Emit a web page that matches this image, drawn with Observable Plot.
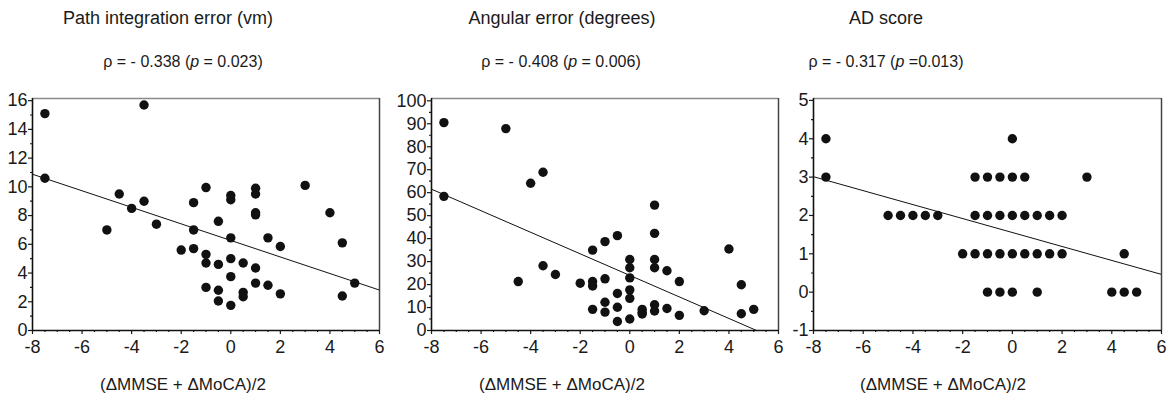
<!DOCTYPE html>
<html><head><meta charset="utf-8">
<script src="https://cdn.jsdelivr.net/npm/d3@7"></script>
<script src="https://cdn.jsdelivr.net/npm/@observablehq/plot@0.6"></script>
<style>
body{margin:0;background:#fff;}
#wrap{position:relative;width:1173px;height:397px;font-family:"Liberation Sans",Arial,sans-serif;color:#1a1a1a;overflow:hidden;}
.panel{position:absolute;top:0;}
.panel text{font-size:18px !important;font-family:"Liberation Sans",Arial,sans-serif !important;}
.t{position:absolute;white-space:nowrap;transform:translate(-50%,-50%);}
</style></head><body><div id="wrap"></div>
<script>
// ---- data ----
const titles = ["Path integration error (vm)", "Angular error (degrees)", "AD score"];
const rhoValues = ["- 0.338", "- 0.408", "- 0.317"];
const pValues = ["= 0.023", "= 0.006", "=0.013"];
const xLabel = "(\u0394MMSE + \u0394MoCA)/2";

const pathX = [-7.5,-7.5,-3.5,-4.5,-5,-4,-3.5,-3,-2,-1.5,-1.5,-1.5,-1,-1,-1,-1,-0.5,-0.5,-0.5,-0.5,0,0,0,0,0,0,0.5,0.5,0.5,1,1,1,1,1,1,1.5,1.5,2,2,3,4,4.5,4.5,5];
const pathY = [15.1,10.6,15.7,9.5,7.0,8.5,9.0,7.4,5.6,8.9,7.0,5.7,9.95,5.3,4.7,3.0,7.6,4.6,2.8,2.05,9.4,9.1,6.45,5.0,3.75,1.75,4.7,2.65,2.35,9.9,9.5,8.2,8.05,4.35,3.3,6.45,3.15,5.85,2.55,10.1,8.2,6.1,2.4,3.3];

const angX = [-7.5,-7.5,-5,-4.5,-4,-3.5,-3.5,-3,-2,-1.5,-1.5,-1.5,-1.5,-1,-1,-1,-1,-0.5,-0.5,-0.5,-0.5,0,0,0,0,0,0,0.5,0.5,0.5,1,1,1,1,1,1,1.5,1.5,2,2,3,4,4.5,4.5,5];
const angY = [90.5,58.4,87.9,21.3,64.1,68.9,28.2,24.4,20.6,35.0,21.3,19.4,9.2,38.7,22.5,12.3,8.0,41.3,16.1,10.1,3.9,30.9,27.3,22.9,17.7,14.0,5.0,9.2,7.9,7.2,54.6,42.3,30.9,27.3,11.2,8.5,26.0,9.6,21.3,6.6,8.6,35.5,19.9,7.3,9.2];

const adX = [-7.5,-7.5,-5,-4.5,-4,-3.5,-3,-1.5,-1,-0.5,0,0.5,3,0,-1.5,-1,-0.5,0,0.5,1,1.5,2,-2,-1.5,-1,-0.5,0,0.5,1,1.5,2,4.5,-1,-0.5,0,1,4,4.5,5];
const adY = [4,3,2,2,2,2,2,3,3,3,3,3,3,4,2,2,2,2,2,2,2,2,1,1,1,1,1,1,1,1,1,1,0,0,0,0,0,0,0];

// fitted regression lines
const fitIntercepts = [6.27, 24.0, 1.555];
const fitSlopes = [-0.576, -4.69, -0.182];

// axis settings
const xDomain = [-8, 6];
const xMajorStep = 2, xMinorStep = 0.5;
const yDomains = [[0, 16.15], [0, 101], [-1, 5.05]];
const yMajorTicks = [d3.range(0, 16.01, 2), d3.range(0, 100.01, 10), d3.range(-1, 5.01, 1)];
const yMinorTicks = [d3.range(1, 16, 2), d3.range(5, 100, 10), d3.range(-0.5, 5, 1)];

// layout
const panelLeft = [0, 390, 780];
const panelWidth = [390, 390, 393];
const marginLefts = [32, 41, 33];
const marginRights = [11, 2, 12];
const H = 397, MT = 98, MB = 67;
const titleCenters = [168, 562, 886];
const rhoCenters = [183, 561, 886];
const xLabelCenters = [183, 562, 943];

const xs = [pathX, angX, adX], ys = [pathY, angY, adY];
const wrap = document.getElementById("wrap");
const xMajor = d3.range(xDomain[0], xDomain[1] + 0.01, xMajorStep);
const xMinor = d3.range(xDomain[0], xDomain[1] + 0.01, xMinorStep).filter(v => Math.abs(v % 2) > 0.01);
const FS = 18;

const addText = (html, x, y, size) => {
  const d = document.createElement("div");
  d.className = "t";
  d.style.left = x + "px";
  d.style.top = y + "px";
  d.style.fontSize = size + "px";
  d.innerHTML = html;
  wrap.appendChild(d);
};

for (let i = 0; i < 3; i++) {
  const pts = xs[i].map((x, k) => ({x, y: ys[i][k]}));
  const fit = xDomain.map(x => ({x, y: fitIntercepts[i] + fitSlopes[i] * x}));
  const yd = yDomains[i];
  const chart = Plot.plot({
    width: panelWidth[i], height: H,
    marginTop: MT, marginBottom: MB, marginLeft: marginLefts[i], marginRight: marginRights[i],
    style: {fontFamily: '"Liberation Sans", Arial, sans-serif', fontSize: FS + "px", color: "#1a1a1a", background: "transparent", overflow: "visible"},
    x: {domain: xDomain},
    y: {domain: yd},
    marks: [
      Plot.ruleY([yd[1]], {stroke: "#8a8a8a", strokeWidth: 1.5}),
      Plot.ruleX([xDomain[1]], {stroke: "#444", strokeWidth: 1.5}),
      Plot.axisX({ticks: xMinor, tickSize: 2, tickFormat: () => "", label: null, strokeWidth: 1.2}),
      Plot.axisX({ticks: xMajor, tickSize: 4, tickPadding: 6, fontSize: FS, tickFormat: d => String(d), label: null, strokeWidth: 1.2}),
      Plot.axisY({ticks: yMinorTicks[i], tickSize: 2, tickFormat: () => "", label: null, strokeWidth: 1.2}),
      Plot.axisY({ticks: yMajorTicks[i], tickSize: 4, tickPadding: 1, fontSize: FS, tickFormat: d => String(d), label: null, strokeWidth: 1.2}),
      Plot.line(fit, {x: "x", y: "y", stroke: "#111", strokeWidth: 1, clip: true}),
      Plot.dot(pts, {x: "x", y: "y", r: 4.7, fill: "#111", stroke: "none"}),
      Plot.ruleY([yd[0]], {stroke: "#111", strokeWidth: 1.6}),
      Plot.ruleX([xDomain[0]], {stroke: "#111", strokeWidth: 1.6})
    ]
  });
  chart.classList.add("panel");
  chart.style.left = panelLeft[i] + "px";
  wrap.appendChild(chart);

  addText(titles[i], titleCenters[i], 18, 18);
  addText("\u03C1 = " + rhoValues[i] + " (<i>p</i> " + pValues[i] + ")", rhoCenters[i], 62, 16);
  addText(xLabel, xLabelCenters[i], 385, 17);
}
</script>
</body></html>
